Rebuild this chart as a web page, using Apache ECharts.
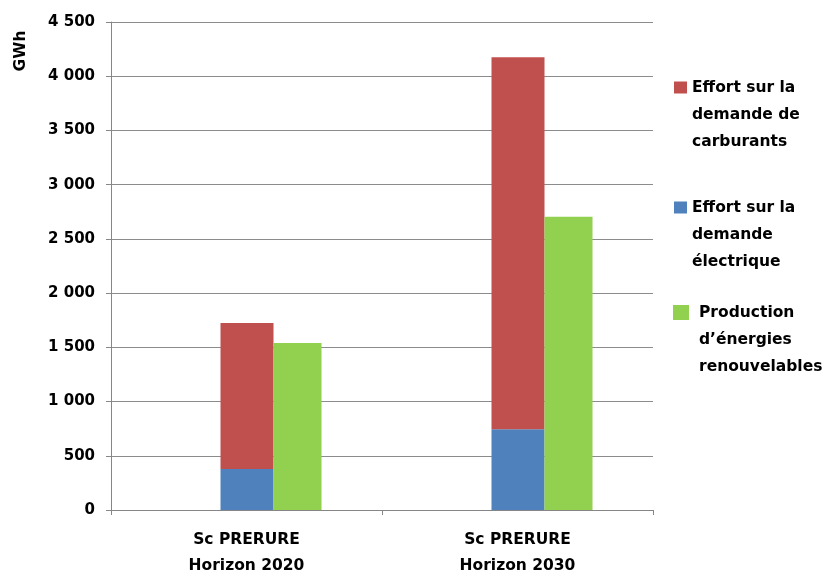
<!DOCTYPE html>
<html>
<head>
<meta charset="utf-8">
<script src="https://cdn.jsdelivr.net/npm/echarts@6/dist/echarts.min.js"></script>
<style>html,body{margin:0;padding:0;background:#fff;}#c{width:832px;height:575px;}</style>
</head>
<body>
<div id="c"></div>
<script>
const categories = ['Sc PRERURE\nHorizon 2020', 'Sc PRERURE\nHorizon 2030'];
const seriesNames = ['Effort sur la\ndemande de\ncarburants', 'Effort sur la\ndemande\nélectrique', 'Production\nd\u2019énergies\nrenouvelables'];
const carburants = [1347, 3432];
const electrique = [378, 744];
const renouvelables = [1540, 2703];
const yTicks = [0, 500, 1000, 1500, 2000, 2500, 3000, 3500, 4000, 4500];

const FONT = 'DejaVu Sans';
const chart = echarts.init(document.getElementById('c'));
const legendBase = {
  orient: 'vertical', padding: 0, selectedMode: false, icon: 'rect',
  itemWidth: 13, itemHeight: 12,
  formatter: n => '\n\n' + n,
  textStyle: { fontFamily: FONT, fontWeight: 'bold', fontSize: 15.5, lineHeight: 27, color: '#000' }
};
chart.setOption({
  animation: false,
  textStyle: { fontFamily: FONT },
  grid: { left: 111, right: 179, top: 22, bottom: 65, containLabel: false, outerBoundsMode: 'none' },
  legend: [
    Object.assign({}, legendBase, { data: [seriesNames[0]], left: 674, top: 20 }),
    Object.assign({}, legendBase, { data: [seriesNames[1]], left: 674, top: 140 }),
    Object.assign({}, legendBase, { data: [seriesNames[2]], left: 673, top: 245, itemWidth: 16, itemHeight: 15,
      textStyle: Object.assign({}, legendBase.textStyle, { padding: [0, 0, 0, 5] }) })
  ],
  graphic: [{
    type: 'text', x: 21, y: 51, rotation: Math.PI / 2,
    style: { text: 'GWh', fontFamily: FONT, fontWeight: 'bold', fontSize: 15.5, fill: '#000', align: 'center', verticalAlign: 'middle' }
  }],
  xAxis: {
    type: 'category', data: categories,
    axisLine: { lineStyle: { color: '#868686', width: 1 } },
    axisTick: { show: true, length: 5, lineStyle: { color: '#868686' } },
    axisLabel: { fontFamily: FONT, fontWeight: 'bold', fontSize: 15.5, lineHeight: 26, color: '#000', margin: 17 }
  },
  yAxis: {
    type: 'value', min: 0, max: yTicks[yTicks.length - 1], interval: yTicks[1] - yTicks[0],
    axisLine: { show: true, lineStyle: { color: '#868686', width: 1 } },
    axisTick: { show: true, length: 5, lineStyle: { color: '#868686' } },
    splitLine: { lineStyle: { color: '#8c8c8c', width: 1 } },
    axisLabel: { fontFamily: FONT, fontWeight: 'bold', fontSize: 15, color: '#000', margin: 16,
      formatter: v => String(v).replace(/\B(?=(\d{3})+(?!\d))/g, ' ') }
  },
  series: [
    { name: '_spacer', type: 'bar', data: ['-', '-'], barWidth: 49, barGap: 0, silent: true },
    { name: seriesNames[1], type: 'bar', stack: 'effort', data: electrique, barWidth: 53, barGap: 0,
      itemStyle: { color: '#4F81BD' } },
    { name: seriesNames[0], type: 'bar', stack: 'effort', data: carburants, barWidth: 53, barGap: 0,
      itemStyle: { color: '#C0504D' } },
    { name: seriesNames[2], type: 'bar', data: renouvelables, barWidth: 48, barGap: 0,
      itemStyle: { color: '#92D050' } }
  ]
});
</script>
</body>
</html>
